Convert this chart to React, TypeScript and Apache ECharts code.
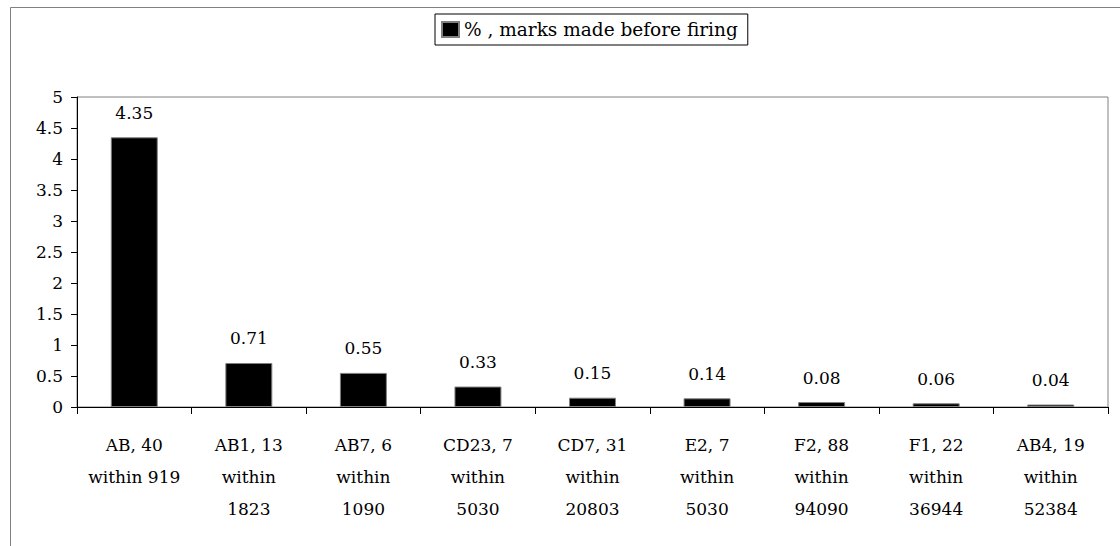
import React, { useEffect, useRef } from "react";
import * as echarts from "echarts";

const categories = [
  "AB, 40\nwithin 919",
  "AB1, 13\nwithin\n1823",
  "AB7, 6\nwithin\n1090",
  "CD23, 7\nwithin\n5030",
  "CD7, 31\nwithin\n20803",
  "E2, 7\nwithin\n5030",
  "F2, 88\nwithin\n94090",
  "F1, 22\nwithin\n36944",
  "AB4, 19\nwithin\n52384",
];
const values = [4.35, 0.71, 0.55, 0.33, 0.15, 0.14, 0.08, 0.06, 0.04];
const seriesName = "% , marks made before firing";

const FONT = "DejaVu Serif";

export default function App() {
  const ref = useRef<HTMLDivElement>(null);
  useEffect(() => {
    if (!ref.current) return;
    const chart = echarts.init(ref.current, null, { renderer: "svg" });
    chart.setOption({
      animation: false,
      backgroundColor: "#fff",
      textStyle: { fontFamily: FONT, color: "#000" },
      graphic: [
        {
          type: "rect",
          shape: { x: 10.5, y: 7.5, width: 1130, height: 560 },
          style: { fill: "none", stroke: "#808080", lineWidth: 1 },
          silent: true,
        },
      ],
      legend: {
        left: 435,
        top: 14,
        orient: "horizontal",
        borderColor: "#000",
        borderWidth: 1,
        padding: [6, 10, 6, 6],
        itemWidth: 17,
        itemHeight: 15,
        itemGap: 5,
        icon: "rect",
        textStyle: { fontFamily: FONT, fontSize: 18.5, color: "#000" },
        data: [seriesName],
      },
      grid: {
        left: 77,
        top: 97,
        right: 12,
        bottom: 139,
        show: true,
        borderColor: "#808080",
        borderWidth: 1,
      },
      xAxis: {
        type: "category",
        data: categories,
        axisLine: { lineStyle: { color: "#000", width: 1 } },
        axisTick: { show: true, length: 7, lineStyle: { color: "#000" } },
        axisLabel: {
          interval: 0,
          fontFamily: FONT,
          fontSize: 17,
          color: "#000",
          lineHeight: 32,
          margin: 22,
        },
      },
      yAxis: {
        type: "value",
        min: 0,
        max: 5,
        interval: 0.5,
        splitLine: { show: false },
        axisLine: { show: true, lineStyle: { color: "#000", width: 1 } },
        axisTick: { show: true, length: 6, lineStyle: { color: "#000" } },
        axisLabel: {
          fontFamily: FONT,
          fontSize: 17,
          color: "#000",
          margin: 14,
        },
      },
      series: [
        {
          name: seriesName,
          type: "bar",
          data: values,
          barWidth: "41%",
          itemStyle: { color: "#000", borderColor: "#808080", borderWidth: 1 },
          label: {
            show: true,
            position: "top",
            distance: 16,
            fontFamily: FONT,
            fontSize: 17,
            color: "#000",
          },
        },
      ],
    });
    return () => chart.dispose();
  }, []);
  return (
    <div
      ref={ref}
      style={{ position: "fixed", left: 0, top: 0, width: 1120, height: 546 }}
    />
  );
}
